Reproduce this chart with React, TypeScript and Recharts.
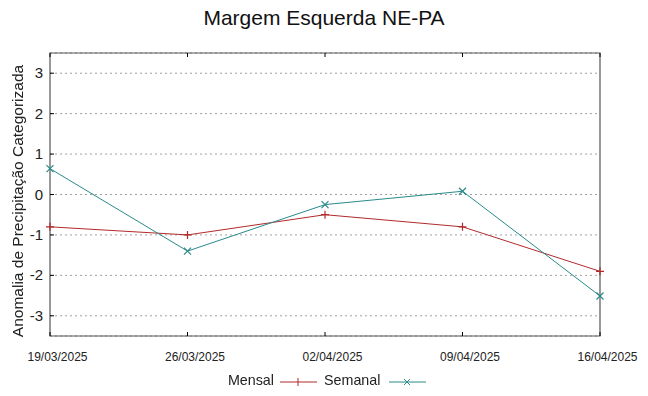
import React from 'react';
import { LineChart, Line, XAxis, YAxis, CartesianGrid, ReferenceArea } from 'recharts';

const dates = ['19/03/2025', '26/03/2025', '02/04/2025', '09/04/2025', '16/04/2025'];
const mensal = [-0.8, -1.0, -0.5, -0.8, -1.9];
const semanal = [0.64, -1.4, -0.25, 0.08, -2.51];
const yTicks = [-3, -2, -1, 0, 1, 2, 3];

const RED = '#b22a2a';
const TEAL = '#2a8a8a';
const FONT = '"Liberation Sans", Arial, sans-serif';
const TL = 4;

const data = dates.map((d, i) => ({ date: d, mensal: mensal[i], semanal: semanal[i] }));

const PlusDot = (props: any) => {
  const { cx, cy } = props;
  if (cx == null || cy == null) return null;
  return (
    <path d={`M${cx - 4},${cy}H${cx + 4}M${cx},${cy - 4}V${cy + 4}`} stroke={RED} strokeWidth={1.2} fill="none" />
  );
};
const CrossDot = (props: any) => {
  const { cx, cy } = props;
  if (cx == null || cy == null) return null;
  return (
    <path d={`M${cx - 3.5},${cy - 3.5}L${cx + 3.5},${cy + 3.5}M${cx - 3.5},${cy + 3.5}L${cx + 3.5},${cy - 3.5}`} stroke={TEAL} strokeWidth={1.2} fill="none" />
  );
};

const LeftTick = (props: any) => {
  const { x, y, payload } = props;
  const ax = x + 7;
  return (
    <g>
      <line x1={ax} x2={ax + TL} y1={y} y2={y} stroke="#000" />
      <text x={x} y={y} dy={5} textAnchor="end" fontSize={15} fill="#222" fontFamily={FONT}>{payload.value}</text>
    </g>
  );
};
const RightTick = (props: any) => {
  const { x, y } = props;
  return <line x1={x} x2={x - TL} y1={y} y2={y} stroke="#000" />;
};
const BottomTick = (props: any) => {
  const { x, y, payload } = props;
  return (
    <g>
      <line x1={x} x2={x} y1={y} y2={y - TL} stroke="#000" />
      <text x={x} y={y} dx={7.5} dy={25} textAnchor="middle" fontSize={12} fill="#222" fontFamily={FONT}>{payload.value}</text>
    </g>
  );
};
const TopTick = (props: any) => {
  const { x, y } = props;
  return <line x1={x} x2={x} y1={y} y2={y + TL} stroke="#000" />;
};

export default function App() {
  return (
    <div style={{ position: 'fixed', left: 0, top: 0, width: 648, height: 396, background: '#fff', fontFamily: FONT }}>
      <div style={{ position: 'absolute', left: 0, top: 6, width: 648, textAlign: 'center', fontSize: 21, color: '#111' }}>
        Margem Esquerda NE-PA
      </div>
      <LineChart width={648} height={396} data={data} margin={{ top: 52, right: 47, bottom: 30, left: 0 }}>
        <CartesianGrid xAxisId="b" yAxisId="l" horizontal vertical={false} stroke="#a0a0a0" strokeDasharray="2 3" />
        <XAxis dataKey="date" xAxisId="b" height={30} tickSize={0} tickMargin={0} tick={<BottomTick />} interval={0} axisLine={false} tickLine={false} />
        <XAxis dataKey="date" xAxisId="t" orientation="top" height={1} tickSize={0} tickMargin={0} tick={<TopTick />} interval={0} axisLine={false} tickLine={false} />
        <YAxis yAxisId="l" width={50} domain={[-3.5, 3.5]} ticks={yTicks} type="number" tickSize={0} tickMargin={7} tick={<LeftTick />} axisLine={false} tickLine={false} />
        <YAxis yAxisId="r" orientation="right" width={1} domain={[-3.5, 3.5]} ticks={yTicks} type="number" tickSize={0} tickMargin={0} tick={<RightTick />} axisLine={false} tickLine={false} />
        <ReferenceArea xAxisId="b" yAxisId="l" x1={dates[0]} x2={dates[dates.length - 1]} y1={-3.5} y2={3.5} fill="none" fillOpacity={0} stroke="#555" strokeWidth={1.2} ifOverflow="visible" />
        <Line xAxisId="b" yAxisId="l" type="linear" dataKey="mensal" stroke={RED} strokeWidth={1} dot={<PlusDot />} activeDot={false} isAnimationActive={false} />
        <Line xAxisId="b" yAxisId="l" type="linear" dataKey="semanal" stroke={TEAL} strokeWidth={1} dot={<CrossDot />} activeDot={false} isAnimationActive={false} />
      </LineChart>
      <div style={{ position: 'absolute', left: 18, top: 201, width: 0, height: 0 }}>
        <div style={{ position: 'absolute', left: -200, top: -10, width: 400, height: 20, lineHeight: '20px', textAlign: 'center', fontSize: 15.5, color: '#222', transform: 'rotate(-90deg)', whiteSpace: 'nowrap' }}>
          Anomalia de Precipitação Categorizada
        </div>
      </div>
      <div style={{ position: 'absolute', top: 372, left: 0, width: 648, height: 20, fontSize: 14.3, color: '#222' }}>
        <span style={{ position: 'absolute', right: 648 - 274, top: 0 }}>Mensal</span>
        <svg style={{ position: 'absolute', left: 280, top: 0 }} width={38} height={20}>
          <line x1={0} x2={37} y1={10} y2={10} stroke={RED} />
          <path d="M18,6V14" stroke={RED} />
        </svg>
        <span style={{ position: 'absolute', left: 324, top: 0 }}>Semanal</span>
        <svg style={{ position: 'absolute', left: 389, top: 0 }} width={38} height={20}>
          <line x1={0} x2={37} y1={10} y2={10} stroke={TEAL} />
          <path d="M15,7L21,13M15,13L21,7" stroke={TEAL} />
        </svg>
      </div>
    </div>
  );
}
